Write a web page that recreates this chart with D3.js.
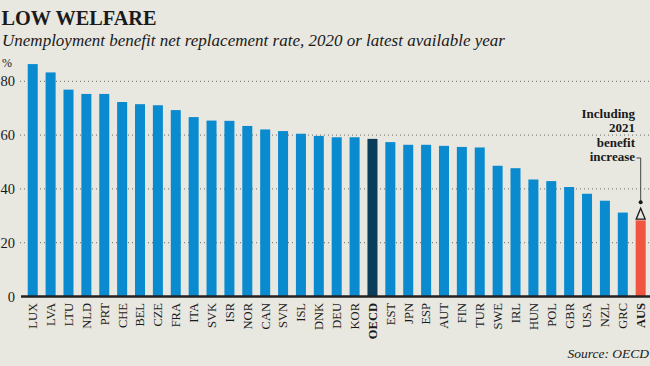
<!DOCTYPE html>
<html>
<head>
<meta charset="utf-8">
<script src="https://cdn.jsdelivr.net/npm/d3@7"></script>
<style>
  html, body { margin: 0; padding: 0; background: #e8e7e0; }
  svg { display: block; }
  text { font-family: "Liberation Serif", "DejaVu Serif", serif; fill: #1a1a1a; }
</style>
</head>
<body>
<svg id="chart" width="650" height="366"></svg>
<script>
const categories = ["LUX","LVA","LTU","NLD","PRT","CHE","BEL","CZE","FRA","ITA","SVK","ISR","NOR","CAN","SVN","ISL","DNK","DEU","KOR","OECD","EST","JPN","ESP","AUT","FIN","TUR","SWE","IRL","HUN","POL","GBR","USA","NZL","GRC","AUS"];
const values = [86.4,83.3,76.9,75.3,75.3,72.3,71.5,71.1,69.3,66.7,65.4,65.3,63.4,62.1,61.5,60.5,59.7,59.2,59.2,58.6,57.4,56.4,56.4,56.0,55.6,55.4,48.6,47.7,43.5,42.9,40.7,38.2,35.6,31.2,28.3];
const yTicks = [0, 20, 40, 60, 80];
const highlightAverage = "OECD";
const highlightHome = "AUS";
const aus2021Value = 30.6;
const annotationLines = ["Including", "2021", "benefit", "increase"];

const svg = d3.select("#chart");
const W = 650, H = 366;

const x = d3.scaleBand().domain(categories).range([22, 651.4]).paddingInner(0.44).paddingOuter(0.32);
const y = d3.scaleLinear().domain([0, 80]).range([296.5, 81.3]);

// Title & subtitle
svg.append("text").attr("x", 1.5).attr("y", 25)
  .attr("font-size", 21).attr("font-weight", "bold")
  .attr("textLength", 155).attr("lengthAdjust", "spacingAndGlyphs")
  .text("LOW WELFARE");
svg.append("text").attr("x", 2).attr("y", 46)
  .attr("font-size", 17.5).attr("font-style", "italic")
  .attr("textLength", 503).attr("lengthAdjust", "spacingAndGlyphs")
  .text("Unemployment benefit net replacement rate, 2020 or latest available year");

// % label
svg.append("text").attr("x", 2).attr("y", 66.5).attr("font-size", 12).text("%");

// Gridlines
svg.append("g").selectAll("line").data(yTicks.filter(d => d > 0)).join("line")
  .attr("x1", 20).attr("x2", W)
  .attr("y1", d => y(d)).attr("y2", d => y(d))
  .attr("stroke", "#6a6a6a").attr("stroke-width", 1).attr("stroke-dasharray", "1,3");

// Y tick labels
svg.append("g").selectAll("text").data(yTicks).join("text")
  .attr("x", 15).attr("y", d => y(d)).attr("dy", "0.35em")
  .attr("text-anchor", "end").attr("font-size", 14.5)
  .text(d => d);

// Bars
svg.append("g").selectAll("rect").data(categories).join("rect")
  .attr("x", d => x(d)).attr("width", x.bandwidth())
  .attr("y", (d, i) => y(values[i]))
  .attr("height", (d, i) => y(0) - y(values[i]))
  .attr("fill", d => d === highlightAverage ? "#0b3c5a" : d === highlightHome ? "#f0553f" : "#0a8bd0");

// Baseline
svg.append("line").attr("x1", 21).attr("x2", W).attr("y1", y(0)).attr("y2", y(0))
  .attr("stroke", "#222").attr("stroke-width", 2.5);

// X labels
svg.append("g").selectAll("text").data(categories).join("text")
  .attr("transform", d => `translate(${x(d) + x.bandwidth() / 2},303) rotate(-90)`)
  .attr("dy", "0.35em").attr("text-anchor", "end").attr("font-size", 12.5)
  .attr("font-weight", d => (d === highlightAverage || d === highlightHome) ? "bold" : "normal")
  .text(d => d);

// Annotation: triangle for 2021 value
const ax = x(highlightHome) + x.bandwidth() / 2;
const ty = y(aus2021Value);
svg.append("path")
  .attr("d", d3.line()([[ax, ty - 6], [ax + 4.5, ty + 5], [ax - 4.5, ty + 5]]) + "Z")
  .attr("fill", "#e8e7e0").attr("stroke", "#1a1a1a").attr("stroke-width", 1.3);

// annotation text
const ann = svg.append("text").attr("text-anchor", "end").attr("font-size", 13).attr("font-weight", "bold");
annotationLines.forEach((t, i) => {
  ann.append("tspan").attr("x", 635).attr("y", 118 + i * 14.3).text(t);
});
// connector
svg.append("path")
  .attr("d", d3.line()([[636.5, 158], [ax, 158], [ax, ty - 12]]))
  .attr("fill", "none").attr("stroke", "#333").attr("stroke-width", 0.9);
svg.append("circle").attr("cx", ax).attr("cy", ty - 12).attr("r", 2).attr("fill", "#1a1a1a");

// Source
svg.append("text").attr("x", 649).attr("y", 358).attr("text-anchor", "end")
  .attr("font-size", 13.5).attr("font-style", "italic")
  .text("Source: OECD");
</script>
</body>
</html>
